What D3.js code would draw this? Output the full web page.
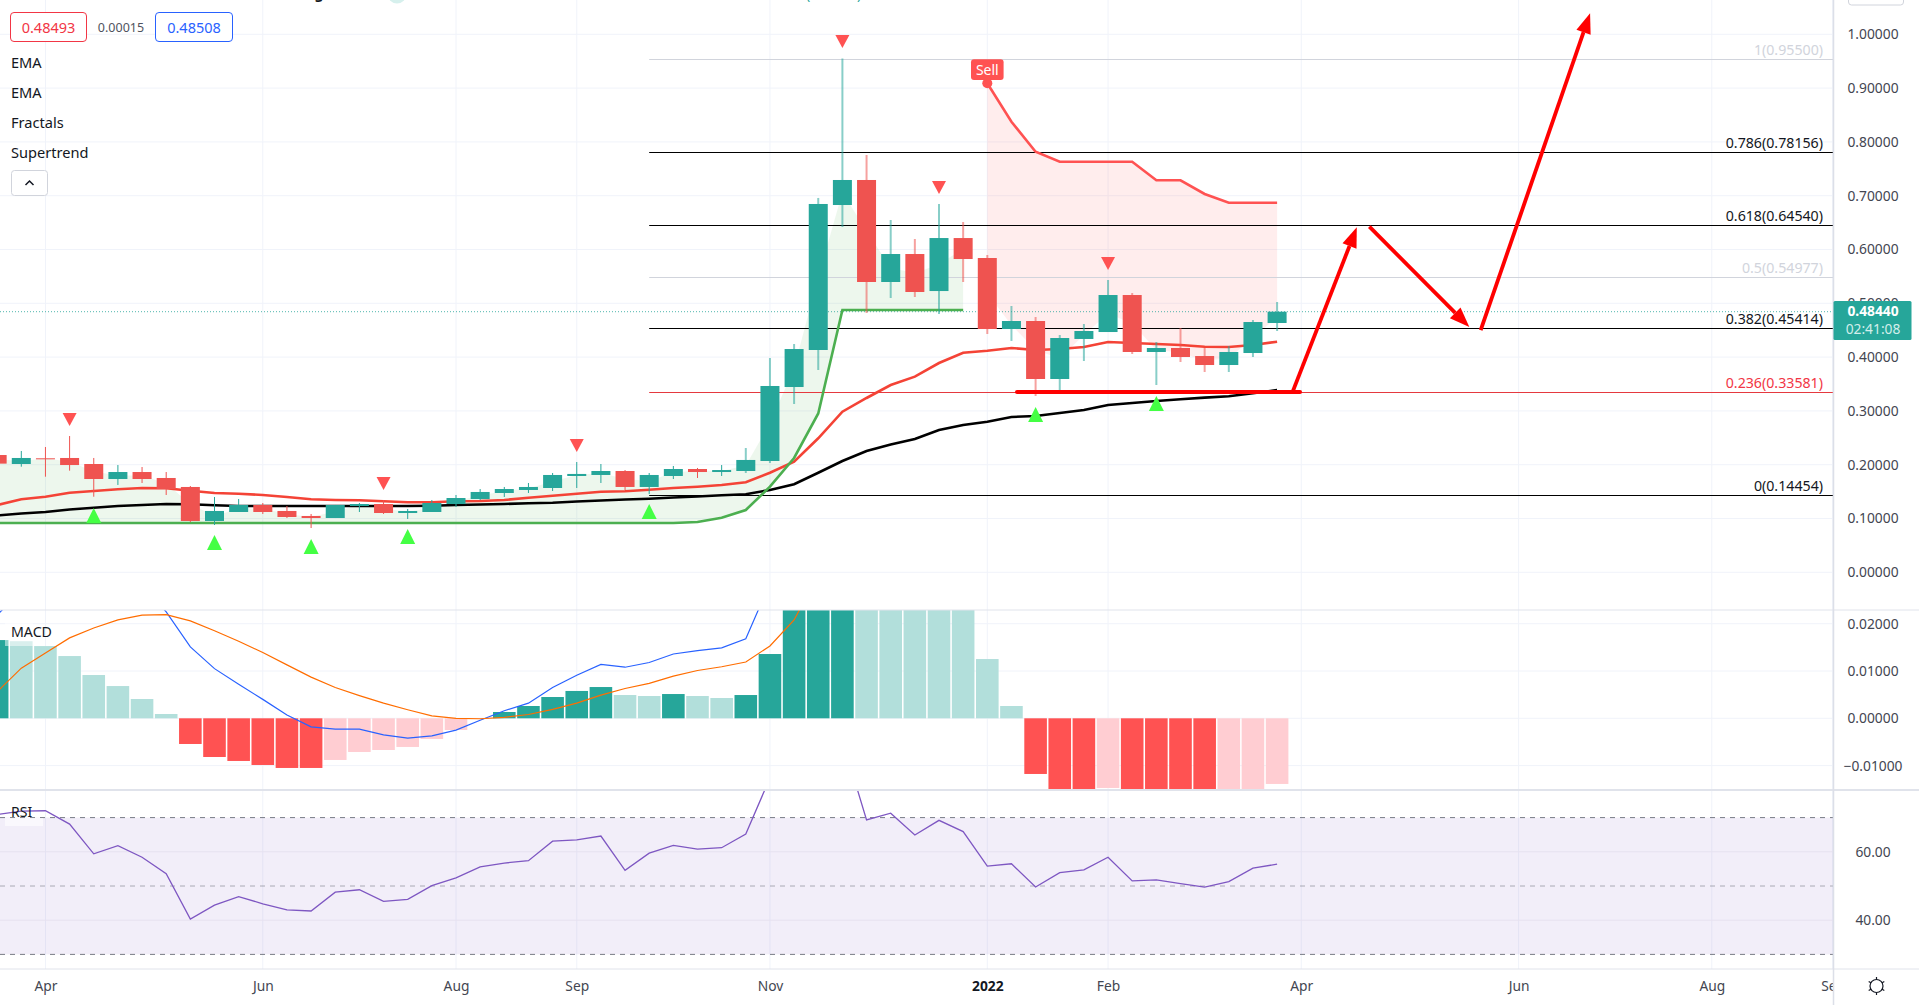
<!DOCTYPE html>
<html>
<head>
<meta charset="utf-8">
<title>Weekly chart</title>
<script src="https://cdn.jsdelivr.net/npm/d3@7"></script>
<style>
  html, body { margin: 0; padding: 0; background: #fff; overflow: hidden; }
  text { font-family: "Noto Sans", sans-serif; }
</style>
</head>
<body>
<svg id="chart" width="1919" height="1005"></svg>
<script>
// weekly candles, first bar is the one cut off at the left edge
const opens = [.218,.2013,.2119,.2125,.2013,.1734,.1864,.1753,.1586,.0954,.1121,.1251,.114,.1047,.1009,.1232,.1269,.1102,.1121,.1269,.1362,.1474,.153,.1567,.179,.1809,.1883,.1586,.179,.192,.1864,.1883,.2069,.3444,.4132,.6827,.7292,.5396,.5916,.5228,.6213,.5842,.4522,.4671,.3593,.4337,.4466,.5154,.4095,.4169,.402,.3853,.4076,.4634];
const closes = [.202,.2125,.2115,.1994,.1734,.1864,.1734,.1548,.0954,.114,.1251,.1121,.1028,.1009,.1251,.1269,.1102,.114,.1288,.1381,.1493,.1548,.1586,.1809,.1828,.1883,.1586,.1809,.192,.1864,.1901,.2088,.3463,.415,.6846,.7292,.5396,.5916,.521,.6213,.5823,.4522,.4671,.3593,.4355,.4485,.5154,.4095,.4169,.4002,.3853,.4095,.4652,.4844];
const highs = [.218,.2255,.2329,.2533,.2125,.1994,.1957,.1864,.1604,.14,.1362,.1288,.1232,.1084,.1251,.1288,.1344,.1177,.1344,.1437,.1548,.1586,.166,.1846,.205,.2013,.1901,.1846,.1976,.1939,.1994,.231,.3983,.4243,.6958,.955,.7757,.6548,.6195,.6846,.6511,.5898,.495,.4745,.4411,.4615,.5433,.5191,.4281,.4541,.4169,.4206,.469,.5024];
const lows = [.202,.1963,.1777,.1889,.1405,.1623,.166,.1437,.0935,.088,.1121,.1084,.1009,.0823,.1009,.1121,.1084,.0991,.1121,.1214,.1344,.14,.1474,.1511,.1567,.166,.153,.1456,.1734,.1753,.179,.1846,.2032,.3128,.376,.6418,.482,.5098,.5117,.4801,.5396,.4429,.43,.3277,.337,.3928,.4466,.4058,.3481,.3909,.3723,.3723,.4002,.4485];

const emaRed = [.125,.1357,.1405,.148,.1511,.1543,.1567,.1561,.1517,.1474,.1461,.1437,.14,.1357,.1344,.1338,.132,.1301,.1301,.132,.1325,.1344,.1387,.1424,.1461,.1498,.1506,.1535,.1567,.1591,.1623,.1673,.1851,.2056,.2491,.2985,.324,.3481,.3636,.389,.4082,.4119,.4169,.4132,.415,.4188,.4281,.4262,.4244,.4225,.4193,.4188,.4225,.4286];
const emaBlack = [.1056,.1093,.1121,.1167,.12,.1232,.1251,.127,.1264,.1245,.1232,.1232,.1232,.1232,.1232,.1232,.1232,.1232,.1238,.1251,.126,.127,.1283,.1294,.1316,.1335,.1353,.1368,.139,.1409,.1431,.145,.153,.1636,.1851,.2069,.2255,.2376,.2478,.2645,.2738,.2799,.2887,.2905,.2961,.3017,.311,.3147,.3184,.3216,.3246,.3271,.3327,.3388];

// supertrend: long side covers bars 0-40, short side the rest
const trendUp = [.0916,.0916,.0916,.0916,.0916,.0916,.0916,.0916,.0916,.0916,.0916,.0916,.0916,.0916,.0916,.0916,.0916,.0916,.0916,.0916,.0916,.0916,.0916,.0916,.0916,.0916,.0916,.0916,.0916,.0935,.1015,.1158,.1591,.2125,.2952,.4875,.4875,.4875,.4875,.4875,.4875];
const trendDown = [.9089,.8375,.7818,.7632,.7632,.7632,.7632,.7286,.7286,.7032,.687,.687,.687];
const trendDownStart = 41;

const fractalHighBars = [3,16,24,35,39,46];
const fractalHighPrices = [.272,.153,.2236,.9746,.7032,.5619];
const fractalLowBars = [4,9,13,17,27,43,48];
const fractalLowPrices = [.1195,.0693,.0619,.0805,.127,.3073,.3277];

const fibLevels = ['1','0.786','0.618','0.5','0.382','0.236','0'];
const fibPrices = [.955,.78156,.6454,.54977,.45414,.33581,.14454];
const fibColors = ['#d1d4dc','#000000','#000000','#d1d4dc','#000000','#e5393f','#000000'];
const fibLabelColors = ['#d1d4dc','#131722','#131722','#d1d4dc','#131722','#f23645','#131722'];
const fibStartBar = 27;

// hand drawn lines on the chart, [bar, price, bar, price]
const drawnLine = [42.23,.3353,53.95,.3353];
const drawnArrows = [
  [53.65,.3364,56.3,.6412],
  [56.82,.6424,60.96,.4559],
  [61.43,.4503,65.96,1.039]
];

const macdHist = [.01654,.0163,.01527,.01316,.00915,.00682,.00408,.00091,-.00543,-.00818,-.00902,-.00987,-.0105,-.0105,-.00881,-.00712,-.0067,-.00606,-.00437,-.00247,-.0001,.00133,.0026,.0045,.00578,.00661,.00492,.00471,.00513,.00471,.00429,.00492,.01359,.026,.03,.033,.031,.029,.028,.027,.026,.01253,.0026,-.01177,-.016,-.016,-.01473,-.016,-.016,-.016,-.016,-.0155,-.0152,-.01388];
const macdHistDark = [1,0,0,0,0,0,0,0,1,1,1,1,1,1,0,0,0,0,0,0,0,1,1,1,1,1,0,0,1,0,0,1,1,1,1,1,0,0,0,0,0,0,0,1,1,1,0,1,1,1,1,0,0,0];
const macdLine = [.0218,.0271,.031,.033,.034,.033,.0282,.0225,.0151,.0105,.0072,.004,.0007,-.0018,-.0023,-.0023,-.0035,-.0042,-.0037,-.0025,-.0004,.0016,.0032,.0065,.0091,.0114,.0108,.0118,.0136,.0143,.0149,.0168,.0286,.045];
const macdSignal = [.0056,.0106,.0138,.017,.0191,.0208,.0218,.0219,.0206,.0185,.0163,.0139,.0113,.0087,.0065,.0048,.0032,.0018,.0005,0,-.0001,.0002,.0008,.0019,.0032,.0049,.0063,.0074,.0089,.0101,.0109,.0119,.0153,.0208,.0303];

const rsiValues = [70.9,71.9,72,68.1,59.4,61.8,58.4,53.6,40.3,44.4,46.9,44.8,43,42.7,48.2,48.9,45.5,46.1,50.1,52.4,55.6,56.7,57.4,63.1,63.5,64.6,54.6,59.6,61.9,60.8,61.2,65.2,81.6,90,91.5,92.7,69.3,71.3,64.9,69.2,65.9,55.8,56.5,49.7,53.9,54.7,58.4,51.5,51.8,50.7,49.7,51.3,55.2,56.4];

const timeBars = [2,11,19,24,32,41,46,54,63,71,76];
const timeLabels = ['Apr','Jun','Aug','Sep','Nov','2022','Feb','Apr','Jun','Aug','Sep'];
const priceTicks = [0,.1,.2,.3,.4,.5,.6,.7,.8,.9,1];
const macdTicks = [-.01,0,.01,.02];
const rsiGridTicks = [40,60];
const rsiBands = [30,50,70];
const legendNames = ['EMA','EMA','Fractals','Supertrend'];

const lastPrice = 0.4844;

const W = 1919, H = 1005, axisX = 1833.5, axisMid = 1873;
const mainBottom = 610, macdBottom = 790, rsiBottom = 969;

const UP = '#26a69a', DOWN = '#ef5350';

const svg = d3.select('#chart');

const x = d3.scaleLinear().domain([0, 1]).range([-2.85, 21.3]);
const yPrice = d3.scaleLinear().domain([0, 1]).range([572.3, 34.3]);
const yMacd = d3.scaleLinear().domain([0, .01]).range([718.3, 671]);
const yRsi = d3.scaleLinear().domain([50, 70]).range([886, 817.6]);

const defs = svg.append('defs');
function addClip(id, top, bottom, right) {
  defs.append('clipPath').attr('id', id).append('rect')
    .attr('x', 0).attr('y', top).attr('width', right).attr('height', bottom - top);
}
addClip('clip-main', 0, mainBottom, axisX);
addClip('clip-macd', mainBottom, macdBottom, axisX);
addClip('clip-rsi', macdBottom, rsiBottom, axisX);
addClip('clip-time', rsiBottom, H, axisX);

// vertical grid through all panes
svg.append('g').selectAll('line').data(timeBars).join('line')
  .attr('x1', d => x(d)).attr('x2', d => x(d))
  .attr('y1', 0).attr('y2', rsiBottom)
  .attr('stroke', '#f0f3fa');

// horizontal grids
function hGrid(values, scale) {
  svg.append('g').selectAll('line').data(values).join('line')
    .attr('x1', 0).attr('x2', axisX)
    .attr('y1', d => scale(d)).attr('y2', d => scale(d))
    .attr('stroke', '#f0f3fa');
}
hGrid(priceTicks, yPrice);
hGrid(macdTicks, yMacd);

// what is left of the header above the crop
svg.append('text').attr('x', 319).attr('y', -1).attr('text-anchor', 'middle')
  .attr('font-size', 14).attr('font-weight', 700).attr('fill', '#131722').text('g');
svg.append('circle').attr('cx', 397).attr('cy', -6).attr('r', 9.5).attr('fill', '#d6f0ed');
svg.append('text').attr('x', 806).attr('y', -1).attr('font-size', 14).attr('fill', '#26a69a').text('(');
svg.append('text').attr('x', 857).attr('y', -1).attr('font-size', 14).attr('fill', '#26a69a').text(')');

// ---- main pane
const main = svg.append('g').attr('clip-path', 'url(#clip-main)');

const bars = d3.range(opens.length);
const bodyMid = i => (opens[i] + closes[i]) / 2;

// supertrend fills run between the line and the body middle
const upBars = d3.range(trendUp.length);
main.append('path')
  .attr('d', d3.area().x(i => x(i)).y0(i => yPrice(trendUp[i])).y1(i => yPrice(bodyMid(i)))(upBars))
  .attr('fill', 'rgba(76,175,80,0.1)');

const downBars = d3.range(trendDown.length);
main.append('path')
  .attr('d', d3.area().x(j => x(j + trendDownStart)).y0(j => yPrice(trendDown[j]))
    .y1(j => yPrice(bodyMid(j + trendDownStart)))(downBars))
  .attr('fill', 'rgba(255,82,82,0.1)');

// fib levels
main.append('g').selectAll('line').data(fibPrices).join('line')
  .attr('x1', x(fibStartBar)).attr('x2', axisX)
  .attr('y1', d => Math.round(yPrice(d)) + .5).attr('y2', d => Math.round(yPrice(d)) + .5)
  .attr('stroke', (d, i) => fibColors[i])
  .attr('stroke-width', 1);

main.append('g').selectAll('text').data(fibPrices).join('text')
  .attr('x', 1823).attr('y', d => yPrice(d) - 4)
  .attr('text-anchor', 'end').attr('font-size', 14.2)
  .attr('fill', (d, i) => fibLabelColors[i])
  .text((d, i) => `${fibLevels[i]}(${d.toFixed(5)})`);

// last price line
main.append('line')
  .attr('x1', 0).attr('x2', axisX)
  .attr('y1', yPrice(lastPrice)).attr('y2', yPrice(lastPrice))
  .attr('stroke', UP).attr('stroke-dasharray', '1 2').attr('opacity', .8);

// emas
const lineOf = (scale, first = 0) => d3.line().x((d, i) => x(i + first)).y(d => scale(d));
main.append('path').datum(emaBlack).attr('d', lineOf(yPrice))
  .attr('fill', 'none').attr('stroke', '#000').attr('stroke-width', 2.6);
main.append('path').datum(emaRed).attr('d', lineOf(yPrice))
  .attr('fill', 'none').attr('stroke', '#f44336').attr('stroke-width', 2.6);

// supertrend lines
main.append('path').datum(trendUp).attr('d', lineOf(yPrice))
  .attr('fill', 'none').attr('stroke', '#4caf50').attr('stroke-width', 2.6);
main.append('path').datum(trendDown).attr('d', lineOf(yPrice, trendDownStart))
  .attr('fill', 'none').attr('stroke', '#ff5252').attr('stroke-width', 2.6);

// candles
const candles = main.append('g').selectAll('g').data(bars).join('g');
candles.append('line')
  .attr('x1', i => x(i)).attr('x2', i => x(i))
  .attr('y1', i => yPrice(highs[i])).attr('y2', i => yPrice(lows[i]))
  .attr('stroke', i => closes[i] >= opens[i] ? UP : DOWN)
  .attr('stroke-width', i => i >= 31 ? 2 : 1)
  .attr('stroke-opacity', i => i >= 31 ? .55 : 1);
candles.append('rect')
  .attr('x', i => x(i) - 9.5)
  .attr('width', 19)
  .attr('y', i => yPrice(Math.max(opens[i], closes[i])))
  .attr('height', i => Math.max(1, Math.abs(yPrice(opens[i]) - yPrice(closes[i]))))
  .attr('fill', i => closes[i] >= opens[i] ? UP : DOWN);

// fractals
main.append('g').selectAll('path').data(fractalHighBars).join('path')
  .attr('d', (b, i) => {
    const px = x(b), py = yPrice(fractalHighPrices[i]);
    return `M${px},${py}L${px - 7},${py - 13}L${px + 7},${py - 13}Z`;
  })
  .attr('fill', '#ff5252');
main.append('g').selectAll('path').data(fractalLowBars).join('path')
  .attr('d', (b, i) => {
    const px = x(b), py = yPrice(fractalLowPrices[i]);
    return `M${px},${py}L${px - 7.5},${py + 15}L${px + 7.5},${py + 15}Z`;
  })
  .attr('fill', '#44ff44');

// sell marker
const sellX = x(trendDownStart), sellY = yPrice(trendDown[0]);
main.append('circle').attr('cx', sellX).attr('cy', sellY).attr('r', 5).attr('fill', '#ff5252');
main.append('rect').attr('x', sellX - 16.3).attr('y', sellY - 24).attr('width', 32.6).attr('height', 20.7)
  .attr('rx', 3).attr('fill', '#ff5252');
main.append('text').attr('x', sellX).attr('y', sellY - 8.8).attr('text-anchor', 'middle')
  .attr('font-size', 14).attr('fill', '#fff').text('Sell');

// hand drawn lines and arrows
main.append('line')
  .attr('x1', x(drawnLine[0])).attr('y1', yPrice(drawnLine[1]))
  .attr('x2', x(drawnLine[2])).attr('y2', yPrice(drawnLine[3]))
  .attr('stroke', '#ff0000').attr('stroke-width', 4).attr('stroke-linecap', 'round');

drawnArrows.forEach(a => {
  const x1 = x(a[0]), y1 = yPrice(a[1]), x2 = x(a[2]), y2 = yPrice(a[3]);
  const len = Math.hypot(x2 - x1, y2 - y1), ux = (x2 - x1) / len, uy = (y2 - y1) / len;
  const bx = x2 - ux * 20, by = y2 - uy * 20;
  main.append('line').attr('x1', x1).attr('y1', y1).attr('x2', bx).attr('y2', by)
    .attr('stroke', '#ff0000').attr('stroke-width', 3.8);
  main.append('path')
    .attr('d', `M${x2},${y2}L${bx - uy * 7.5},${by + ux * 7.5}L${bx + uy * 7.5},${by - ux * 7.5}Z`)
    .attr('fill', '#ff0000');
});

// legend on top of the pane
function valueBox(left, width, color, label) {
  svg.append('rect').attr('x', left + .5).attr('y', 12.5).attr('width', width).attr('height', 29)
    .attr('rx', 3.5).attr('fill', '#fff').attr('stroke', color);
  svg.append('text').attr('x', left + width / 2 + .5).attr('y', 32.5).attr('text-anchor', 'middle')
    .attr('font-size', 14.5).attr('fill', color).text(label);
}
valueBox(10, 76, '#f23645', '0.48493');
valueBox(155, 77, '#2962ff', '0.48508');
svg.append('text').attr('x', 121).attr('y', 32).attr('text-anchor', 'middle')
  .attr('font-size', 12.5).attr('fill', '#50535e').text('0.00015');

svg.append('g').selectAll('text').data(legendNames).join('text')
  .attr('x', 11).attr('y', (d, i) => 67.5 + i * 30)
  .attr('font-size', 14.6).attr('fill', '#131722').text(d => d);

svg.append('rect').attr('x', 11.5).attr('y', 170.5).attr('width', 36).attr('height', 25)
  .attr('rx', 3).attr('fill', '#fff').attr('stroke', '#d1d4dc');
svg.append('path').attr('d', 'M25.5,185L29.5,181L33.5,185')
  .attr('fill', 'none').attr('stroke', '#131722').attr('stroke-width', 1.5);

// ---- macd pane
const macd = svg.append('g').attr('clip-path', 'url(#clip-macd)');
macd.append('g').selectAll('rect').data(macdHist).join('rect')
  .attr('x', (d, i) => x(i) - 11.3)
  .attr('width', 22.6)
  .attr('y', d => d >= 0 ? yMacd(d) : yMacd(0))
  .attr('height', d => Math.abs(yMacd(d) - yMacd(0)))
  .attr('fill', (d, i) => d >= 0
    ? (macdHistDark[i] ? UP : '#b2dfdb')
    : (macdHistDark[i] ? '#ff5252' : '#ffcdd2'));
macd.append('path').datum(macdLine).attr('d', lineOf(yMacd))
  .attr('fill', 'none').attr('stroke', '#2962ff').attr('stroke-width', 1.2);
macd.append('path').datum(macdSignal).attr('d', lineOf(yMacd))
  .attr('fill', 'none').attr('stroke', '#ff6d00').attr('stroke-width', 1.2);
macd.append('rect').attr('x', 5).attr('y', 619).attr('width', 28).attr('height', 27)
  .attr('fill', 'rgba(255,255,255,0.5)');
svg.append('text').attr('x', 11).attr('y', 636.5).attr('font-size', 14.2)
  .attr('fill', '#131722').text('MACD');

// ---- rsi pane
const rsi = svg.append('g').attr('clip-path', 'url(#clip-rsi)');
rsi.append('rect').attr('x', 0).attr('width', axisX)
  .attr('y', yRsi(70)).attr('height', yRsi(30) - yRsi(70))
  .attr('fill', 'rgba(126,87,194,0.1)');
rsi.append('g').selectAll('line').data(rsiGridTicks).join('line')
  .attr('x1', 0).attr('x2', axisX)
  .attr('y1', d => yRsi(d)).attr('y2', d => yRsi(d))
  .attr('stroke', '#e6e1f0');
rsi.append('g').selectAll('line').data(rsiBands).join('line')
  .attr('x1', 0).attr('x2', axisX)
  .attr('y1', d => yRsi(d)).attr('y2', d => yRsi(d))
  .attr('stroke', '#787b86').attr('stroke-dasharray', '5 5')
  .attr('stroke-opacity', d => d === 50 ? .6 : 1);
rsi.append('rect').attr('x', 5).attr('y', 818).attr('width', 38).attr('height', 8)
  .attr('fill', 'rgba(255,255,255,0.6)');
rsi.append('path').datum(rsiValues).attr('d', lineOf(yRsi))
  .attr('fill', 'none').attr('stroke', '#7e57c2').attr('stroke-width', 1.3);
svg.append('text').attr('x', 11).attr('y', 816.5).attr('font-size', 14)
  .attr('fill', '#131722').text('RSI');

// ---- axes
function styleAxis(g) {
  g.select('.domain').remove();
  g.selectAll('.tick line').remove();
  g.selectAll('.tick text')
    .attr('font-family', '"Noto Sans", sans-serif')
    .attr('font-size', 13.8)
    .attr('fill', '#434651')
    .attr('x', 0).attr('text-anchor', 'middle');
}
svg.append('g').attr('transform', `translate(${axisMid},0)`)
  .call(d3.axisRight(yPrice).tickValues(priceTicks).tickFormat(d3.format('.5f'))).call(styleAxis);
svg.append('g').attr('transform', `translate(${axisMid},0)`)
  .call(d3.axisRight(yMacd).tickValues(macdTicks).tickFormat(d3.format('.5f'))).call(styleAxis);
svg.append('g').attr('transform', `translate(${axisMid},0)`)
  .call(d3.axisRight(yRsi).tickValues(rsiGridTicks).tickFormat(d3.format('.2f'))).call(styleAxis);

const timeG = svg.append('g').attr('clip-path', 'url(#clip-time)').append('g')
  .attr('transform', `translate(0,${rsiBottom})`)
  .call(d3.axisBottom(x).tickValues(timeBars).tickFormat((d, i) => timeLabels[i]))
  .call(styleAxis);
timeG.selectAll('.tick text').attr('y', 12)
  .attr('font-weight', d => d === 41 ? 700 : 400)
  .attr('fill', d => d === 41 ? '#131722' : '#434651');

// pane separators and axis border
[[mainBottom, 1], [macdBottom, 2], [rsiBottom, 1]].forEach(s => {
  svg.append('line').attr('x1', 0).attr('x2', W).attr('y1', s[0]).attr('y2', s[0])
    .attr('stroke', '#e0e3eb').attr('stroke-width', s[1]);
});
svg.append('line').attr('x1', axisX).attr('x2', axisX).attr('y1', 0).attr('y2', H)
  .attr('stroke', '#dcdfe8').attr('stroke-width', 1.5);

// last price tag
const tagY = yPrice(lastPrice);
svg.append('rect').attr('x', axisX).attr('y', tagY - 10.7).attr('width', 78).attr('height', 39)
  .attr('rx', 1.5).attr('fill', UP);
svg.append('text').attr('x', axisMid).attr('y', tagY + 4.5).attr('text-anchor', 'middle')
  .attr('font-size', 13.8).attr('font-weight', 700).attr('fill', '#fff').text(lastPrice.toFixed(5));
svg.append('text').attr('x', axisMid).attr('y', tagY + 22.5).attr('text-anchor', 'middle')
  .attr('font-size', 13.8).attr('fill', '#d3eeeb').text('02:41:08');

// small button cut off at the top right
svg.append('rect').attr('x', 1848.5).attr('y', -20).attr('width', 55).attr('height', 25)
  .attr('rx', 3).attr('fill', '#fff').attr('stroke', '#d1d4dc');

// gear icon
const gear = svg.append('g').attr('transform', 'translate(1876.5,986)')
  .attr('fill', 'none').attr('stroke', '#131722').attr('stroke-width', 1.2);
gear.append('circle').attr('r', 6.5);
gear.selectAll('line').data(d3.range(6)).join('line')
  .attr('x1', d => 6.5 * Math.cos(d * Math.PI / 3 + Math.PI / 6))
  .attr('y1', d => 6.5 * Math.sin(d * Math.PI / 3 + Math.PI / 6))
  .attr('x2', d => 9 * Math.cos(d * Math.PI / 3 + Math.PI / 6))
  .attr('y2', d => 9 * Math.sin(d * Math.PI / 3 + Math.PI / 6));
</script>
</body>
</html>
